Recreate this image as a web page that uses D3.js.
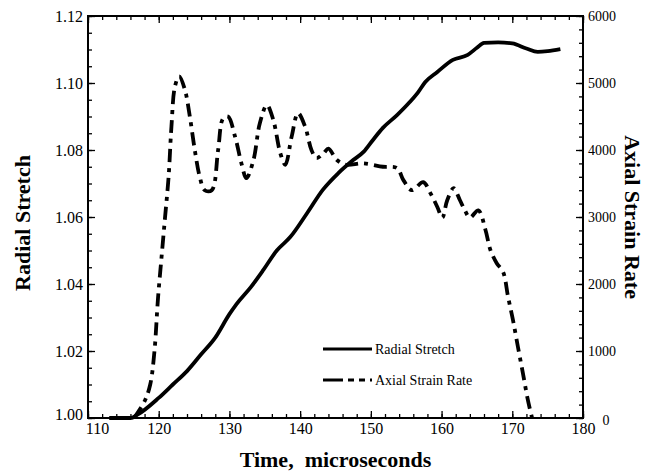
<!DOCTYPE html>
<html>
<head>
<meta charset="utf-8">
<script src="https://cdn.jsdelivr.net/npm/d3@7"></script>
<style>
  body { margin: 0; background: #fff; }
  text { font-family: "Liberation Serif", "Times New Roman", serif; fill: #000; }
</style>
</head>
<body>
<div id="chart"></div>
<script>
// Radial stretch (solid line), left axis
const timeRadial = [113, 116, 117, 120, 122, 124, 126, 128, 130, 131, 133, 134.8, 136.7, 138.6, 141, 143.2, 145.4, 147.5, 149, 150.3, 151.7, 153.7, 155.5, 156.7, 157.7, 159.4, 161.6, 163.7, 165, 166, 168, 170, 172, 173.6, 175, 176.8];
const radialStretch = [1.000, 1.000, 1.001, 1.006, 1.010, 1.014, 1.019, 1.024, 1.031, 1.034, 1.039, 1.0442, 1.050, 1.054, 1.0612, 1.0681, 1.0731, 1.077, 1.0795, 1.083, 1.0866, 1.0904, 1.0943, 1.0973, 1.1003, 1.1033, 1.1069, 1.1084, 1.1105, 1.112, 1.1121, 1.1118, 1.1103, 1.1093, 1.1095, 1.1101];

// Axial strain rate (dash-dot line), right axis
const timeAxial = [116.5, 118, 118.8, 119.4, 119.9, 120.4, 120.9, 121.4, 121.8, 122.3, 122.9, 123.7, 124.4, 125.1, 125.8, 126.5, 127.5, 128.4, 129.1, 129.8, 130.8, 131.7, 132.4, 133.4, 134.3, 135.3, 136.2, 137.2, 137.9, 138.8, 139.7, 140.7, 141.6, 142.3, 143.3, 144.0, 145.2, 146.5, 148.9, 151.7, 153.7, 154.6, 155.8, 157.4, 158.4, 159.4, 160.1, 160.8, 161.7, 162.6, 163.3, 164.0, 165.2, 166.2, 166.9, 167.8, 168.7, 169.4, 170.1, 170.8, 171.5, 172.2, 172.8];
const axialStrainRate = [0, 250, 500, 1000, 1790, 2400, 3000, 3600, 4350, 4950, 5100, 4900, 4500, 4000, 3600, 3400, 3400, 4000, 4470, 4500, 4200, 3800, 3580, 3850, 4400, 4670, 4450, 3950, 3780, 4200, 4550, 4350, 4000, 3880, 3950, 4020, 3850, 3780, 3800, 3750, 3730, 3550, 3400, 3520, 3360, 3150, 2990, 3250, 3430, 3250, 3100, 2990, 3100, 2810, 2510, 2310, 2180, 1810, 1460, 1060, 670, 270, 0];

const xTicks = [110, 120, 130, 140, 150, 160, 170, 180];
const leftTicks = [1.00, 1.02, 1.04, 1.06, 1.08, 1.10, 1.12];
const rightTicks = [0, 1000, 2000, 3000, 4000, 5000, 6000];
const seriesNames = ["Radial Stretch", "Axial Strain Rate"];

const W = 651, H = 474;
const margin = {top: 16, right: 68, bottom: 56, left: 88};
const width = W - margin.left - margin.right;
const height = H - margin.top - margin.bottom;

const svg = d3.select("#chart").append("svg")
    .attr("width", W).attr("height", H);
const g = svg.append("g").attr("transform", `translate(${margin.left},${margin.top})`);

const x = d3.scaleLinear().domain([110, 180]).range([0, width]);
const yL = d3.scaleLinear().domain([1.00, 1.12]).range([height, 0]);
const yR = d3.scaleLinear().domain([0, 6000]).range([height, 0]);

function styleAxis(sel) {
    sel.select(".domain").remove();
    sel.selectAll("line").attr("stroke", "#000").attr("stroke-width", 1.3);
    sel.selectAll("text").style("font-size", "16px");
}

// minor ticks (inward)
g.append("g").attr("transform", `translate(0,${height})`)
    .call(d3.axisBottom(x).tickValues(d3.range(110, 181, 2)).tickSize(-4).tickFormat(""))
    .call(styleAxis);
g.append("g")
    .call(d3.axisTop(x).tickValues(d3.range(110, 181, 2)).tickSize(-4).tickFormat(""))
    .call(styleAxis);
g.append("g")
    .call(d3.axisLeft(yL).tickValues(d3.range(0, 25).map(i => 1 + i * 0.005)).tickSize(-4).tickFormat(""))
    .call(styleAxis);
g.append("g").attr("transform", `translate(${width},0)`)
    .call(d3.axisRight(yR).tickValues(d3.range(0, 31).map(i => i * 200)).tickSize(-4).tickFormat(""))
    .call(styleAxis);

// major ticks + labels
const xAxis = g.append("g").attr("transform", `translate(0,${height})`)
    .call(d3.axisBottom(x).tickValues(xTicks).tickSize(-7).tickPadding(5).tickFormat(d3.format("d")))
    .call(styleAxis);
xAxis.selectAll("text").filter(d => d === 110).attr("x", 9);

g.append("g")
    .call(d3.axisTop(x).tickValues(xTicks).tickSize(-7).tickFormat(""))
    .call(styleAxis);

const leftAxis = g.append("g")
    .call(d3.axisLeft(yL).tickValues(leftTicks).tickSize(-7).tickPadding(5).tickFormat(d3.format(".2f")))
    .call(styleAxis);
leftAxis.selectAll("text").filter(d => d === 1.00).attr("dy", "0.1em");

const rightAxis = g.append("g").attr("transform", `translate(${width},0)`)
    .call(d3.axisRight(yR).tickValues(rightTicks).tickSize(-7).tickFormat(d3.format("d")))
    .call(styleAxis);
rightAxis.selectAll("text")
    .attr("x", 19).attr("text-anchor", "middle")
    .style("font-size", "14px");
rightAxis.selectAll("text").filter(d => d === 0).attr("x", 23).attr("dy", "0.45em");

// frame
g.append("rect")
    .attr("width", width).attr("height", height)
    .attr("fill", "none").attr("stroke", "#000").attr("stroke-width", 2);

// lines
const radialLine = d3.line()
    .x((d, i) => x(timeRadial[i]))
    .y(d => yL(d))
    .curve(d3.curveMonotoneX);

const axialLine = d3.line()
    .x((d, i) => x(timeAxial[i]))
    .y(d => yR(d))
    .curve(d3.curveCatmullRom.alpha(0.5));

g.append("path")
    .datum(radialStretch)
    .attr("fill", "none").attr("stroke", "#000").attr("stroke-width", 3.8)
    .attr("d", radialLine);

g.append("path")
    .datum(axialStrainRate)
    .attr("fill", "none").attr("stroke", "#000").attr("stroke-width", 3.8)
    .attr("stroke-dasharray", "13,6,4,6")
    .attr("d", axialLine);

// legend
const legend = g.append("g").attr("transform", `translate(${323 - margin.left},${349 - margin.top})`);
seriesNames.forEach((name, i) => {
    const row = legend.append("g").attr("transform", `translate(0,${i * 31})`);
    row.append("line")
        .attr("x1", 0).attr("x2", 49).attr("y1", 0).attr("y2", 0)
        .attr("stroke", "#000").attr("stroke-width", 3)
        .attr("stroke-dasharray", i === 0 ? null : "20,5,6,5,6,5");
    row.append("text")
        .attr("x", 52).attr("dy", "0.35em")
        .style("font-size", "14px")
        .text(name);
});

// axis titles
svg.append("text")
    .attr("x", margin.left + width / 2).attr("y", 467)
    .attr("text-anchor", "middle")
    .style("font-size", "22px").style("font-weight", "bold")
    .style("white-space", "pre")
    .text("Time,  microseconds");

svg.append("text")
    .attr("transform", `translate(30,${margin.top + height / 2 + 6}) rotate(-90)`)
    .attr("text-anchor", "middle")
    .style("font-size", "22px").style("font-weight", "bold")
    .text("Radial Stretch");

svg.append("text")
    .attr("transform", `translate(625,${margin.top + height / 2}) rotate(90)`)
    .attr("text-anchor", "middle")
    .style("font-size", "22px").style("font-weight", "bold")
    .text("Axial Strain Rate");
</script>
</body>
</html>
